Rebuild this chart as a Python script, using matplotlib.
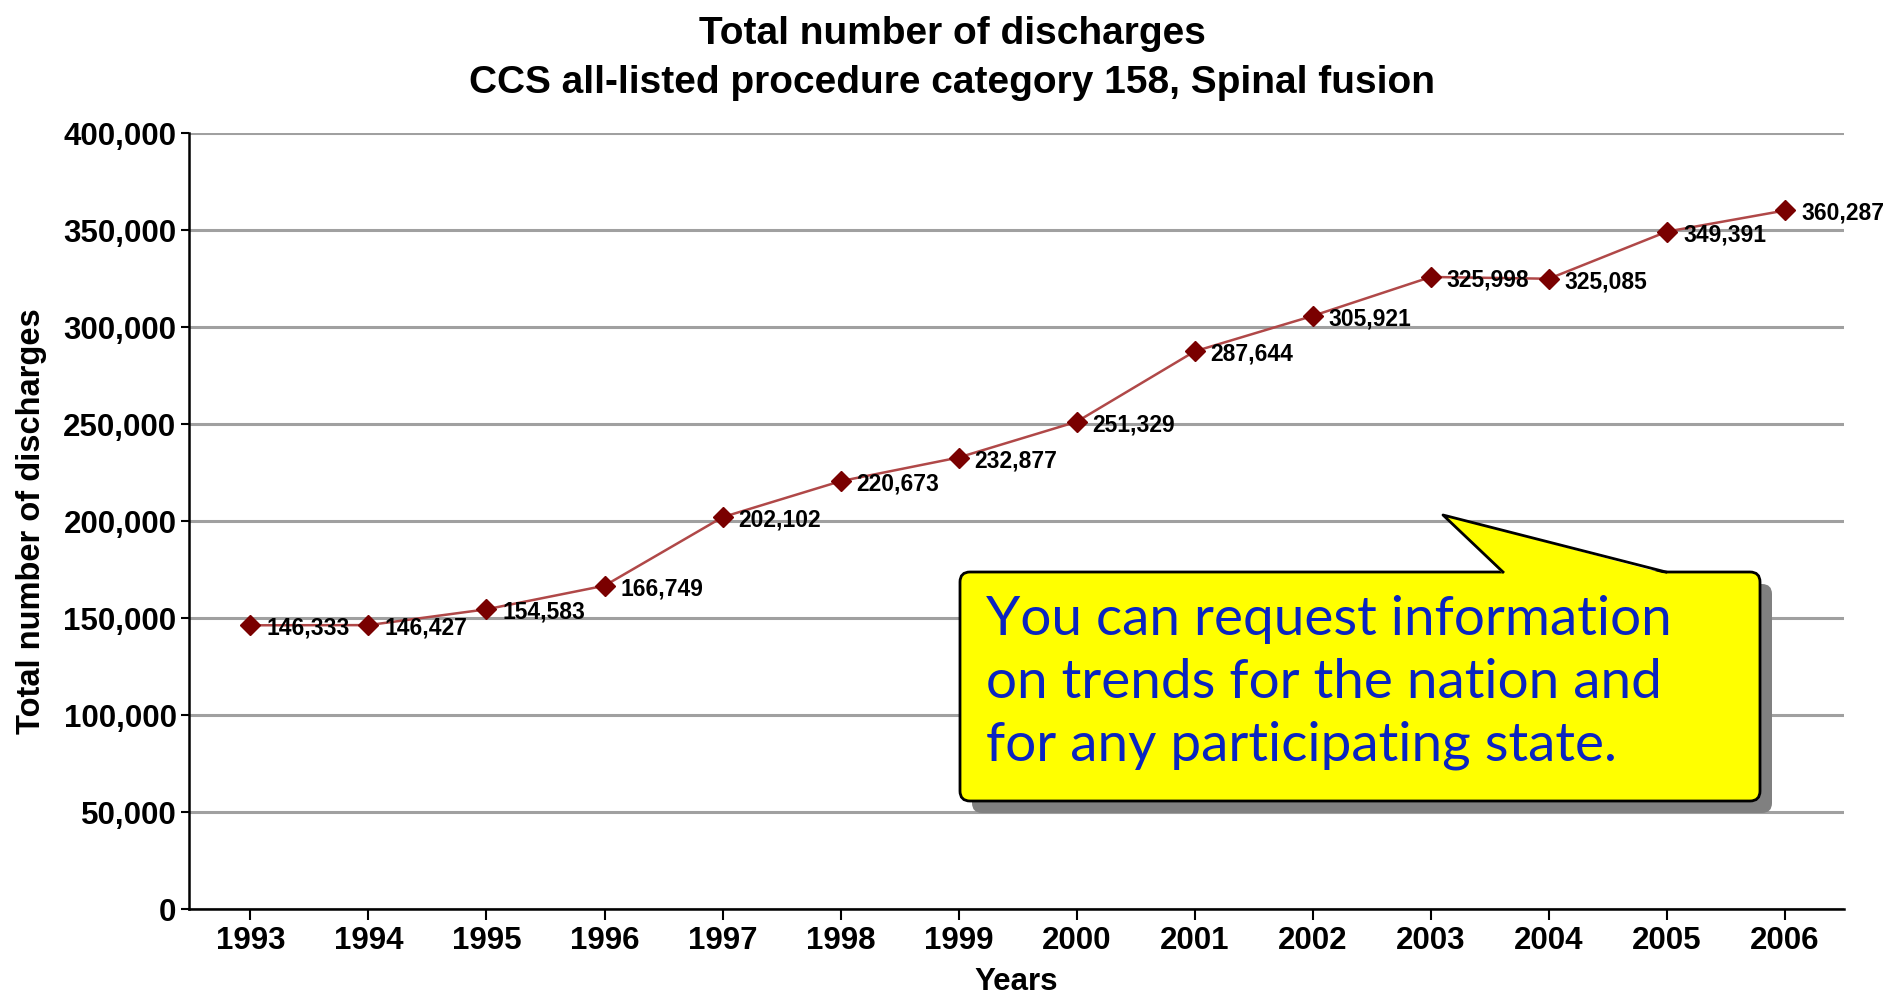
import matplotlib
matplotlib.use("Agg")
import matplotlib.pyplot as plt
from matplotlib.patches import FancyBboxPatch, Polygon
from matplotlib.lines import Line2D
from matplotlib.transforms import IdentityTransform
from matplotlib.ticker import FuncFormatter

years = [1993, 1994, 1995, 1996, 1997, 1998, 1999, 2000, 2001, 2002, 2003, 2004, 2005, 2006]
discharges = [146333, 146427, 154583, 166749, 202102, 220673, 232877, 251329,
              287644, 305921, 325998, 325085, 349391, 360287]
y_ticks = [0, 50000, 100000, 150000, 200000, 250000, 300000, 350000, 400000]
title_lines = ["Total number of discharges",
               "CCS all-listed procedure category 158, Spinal fusion"]
callout_lines = ["You can request information",
                 "on trends for the nation and",
                 "for any participating state."]

W, H = 1886, 996
fig = plt.figure(figsize=(W / 100, H / 100), dpi=100)
ax = fig.add_axes([189 / W, 1 - 909 / H, (1844 - 189) / W, (909 - 133.5) / H])

xpos = list(range(len(years)))
ax.plot(xpos, discharges, color="#b04848", lw=1.8, zorder=3)
ax.plot(xpos, discharges, ls="none", marker="D", ms=10, color="#7a0000", zorder=4)

lab_font = dict(family=["Liberation Sans Narrow", "Liberation Sans", "DejaVu Sans"],
                weight="bold", size=16.5)
for x, v in zip(xpos, discharges):
    ax.annotate(f"{v:,}", (x, v), xytext=(16, -3), textcoords="offset pixels",
                ha="left", va="center", **lab_font, zorder=5)

ax.set_xlim(-0.52, len(years) - 0.5)
ax.set_ylim(0, 400000)
ax.set_yticks(y_ticks)
ax.yaxis.set_major_formatter(FuncFormatter(lambda v, p: f"{int(v):,}"))
ax.set_xticks(xpos)
ax.set_xticklabels([str(y) for y in years])

fam = ["Liberation Sans", "DejaVu Sans"]
for lbl in ax.get_xticklabels() + ax.get_yticklabels():
    lbl.set_fontfamily(fam)
    lbl.set_fontweight("bold")
    lbl.set_fontsize(22.5)
ax.tick_params(axis="y", length=6, width=1.5, pad=3)
ax.tick_params(axis="x", length=8, width=1.5, pad=4)

ax.grid(axis="y", color="#a0a0a0", lw=2.2, zorder=0)
ax.set_axisbelow(True)
for s in ["top", "right"]:
    ax.spines[s].set_visible(False)
ax.spines["left"].set_linewidth(1.8)
ax.spines["bottom"].set_linewidth(1.8)

ax.set_ylabel("Total number of discharges", family=fam, weight="bold", size=23.5, labelpad=12)
ax.set_xlabel("Years", family=fam, weight="bold", size=22.5, labelpad=8)

fig.text(0.505, 1 - 34 / H, title_lines[0], ha="center", va="center",
         family=fam, weight="bold", size=28)
fig.text(0.505, 1 - 83 / H, title_lines[1], ha="center", va="center",
         family=fam, weight="bold", size=28)

# Callout (figure pixel coordinates, y measured from top)
T = IdentityTransform()
def P(x, y):
    return (x, H - y)

bx0, by0, bx1, by1 = 960, 572, 1760, 801
shadow = FancyBboxPatch(P(bx0 + 12, by1 + 12), bx1 - bx0, by1 - by0,
                        boxstyle="round,pad=0,rounding_size=10",
                        transform=T, facecolor="#808080", edgecolor="none", zorder=10)
fig.patches.append(shadow)
box = FancyBboxPatch(P(bx0, by1), bx1 - bx0, by1 - by0,
                     boxstyle="round,pad=0,rounding_size=10",
                     transform=T, facecolor="#ffff00", edgecolor="black", lw=2, zorder=11)
fig.patches.append(box)
tip = P(1443, 515)
b1 = P(1503, 572)
b2 = P(1666, 572)
tri = Polygon([P(1503, 574), tip, P(1666, 574)], closed=True, transform=T,
              facecolor="#ffff00", edgecolor="none", zorder=12)
fig.patches.append(tri)
fig.lines.append(Line2D([b1[0], tip[0], b2[0]], [b1[1], tip[1], b2[1]],
                        transform=T, color="black", lw=2, zorder=13))

for i, line in enumerate(callout_lines):
    fig.text(986 / W, 1 - (619 + i * 63) / H, line, ha="left", va="center",
             family=["Lato", "DejaVu Sans"], size=39.5, color="#0a24c0", zorder=14)

fig.savefig("out.png", dpi=100)
